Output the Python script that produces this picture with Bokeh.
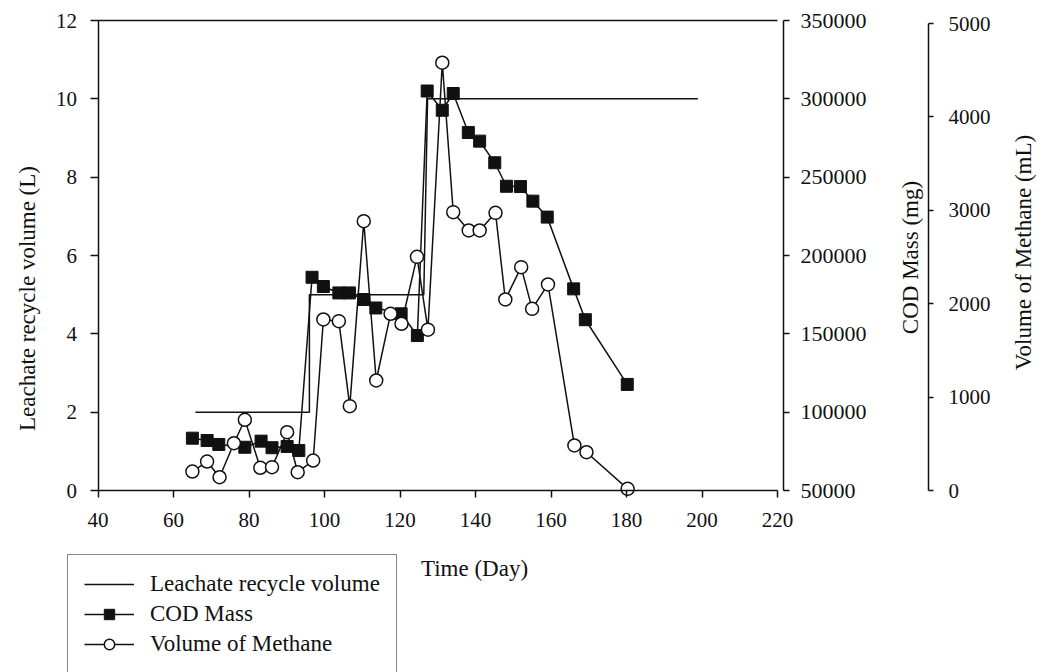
import math
from bokeh.plotting import figure
from bokeh.models import (Range1d, LinearAxis, Legend, LegendItem, FixedTicker,
                          BasicTickFormatter, Label)
from bokeh.embed import file_html
from bokeh.resources import INLINE

# ---- data ----
leachate_days = [65.8, 96.0, 96.0, 126.3, 127.3, 198.9]
leachate_l = [2, 2, 5, 5, 10, 10]

cod_days = [65.0, 68.9, 72.0, 78.9, 83.2, 86.1, 90.1, 93.2, 96.7, 99.7,
            103.8, 106.6, 110.4, 113.6, 120.3, 124.6, 127.2, 131.2, 134.1, 138.1,
            141.1, 145.1, 148.2, 151.9, 155.2, 159.0, 166.0, 169.1, 180.2]
cod_mg = [83400, 81900, 79400, 77600, 81500, 77300, 78100, 75500, 186100, 180200,
          176100, 176100, 171900, 166500, 162800, 148900, 305000, 292700, 303400, 278500,
          273000, 259200, 244200, 244000, 234700, 224500, 178700, 159000, 117700]

ch4_days = [65.0, 68.9, 72.2, 76.0, 78.9, 83.0, 86.1, 90.1, 92.9, 97.0,
            99.7, 103.8, 106.7, 110.4, 113.7, 117.5, 120.4, 124.5, 127.4, 131.2,
            134.1, 138.2, 141.1, 145.3, 147.9, 152.1, 155.0, 159.2, 166.2, 169.4, 180.3]
ch4_ml = [203, 310, 142, 506, 757, 243, 250, 624, 196, 321,
          1831, 1813, 903, 2883, 1178, 1892, 1785, 2502, 1722, 4580,
          2980, 2784, 2784, 2973, 2045, 2391, 1945, 2206, 482, 410, 18]

x_ticks = [40, 60, 80, 100, 120, 140, 160, 180, 200, 220]
left_ticks = [0, 2, 4, 6, 8, 10, 12]
cod_ticks = [50000, 100000, 150000, 200000, 250000, 300000, 350000]
ch4_ticks = [0, 1000, 2000, 3000, 4000, 5000]

FONT = "Liberation Serif"
TICK_FS = "21px"
TITLE_FS = "23px"
INK = "#111111"
W, H = 1042, 672

# ---- geometry: the frame covers the whole canvas, axes sit at fixed places ----
FL, FR, FT, FB = 97.5, 777.0, 20.0, 490.0       # plot box in pixels
x_per_px = (220 - 40) / (FR - FL)
y_per_px = (12 - 0) / (FB - FT)
cod_per_px = (350000 - 50000) / (FB - FT)
ch4_per_px = 5000 / (FB - 23.0)


def xr(px):
    return 40 + (px - FL) * x_per_px


p = figure(width=W, height=H, output_backend="svg", toolbar_location=None,
           x_axis_location=None, y_axis_location=None,
           x_range=Range1d(xr(0), xr(W)),
           y_range=Range1d(-(H - FB) * y_per_px, FB * y_per_px),
           min_border=0)
p.extra_y_ranges = {
    "cod": Range1d(50000 - (H - FB) * cod_per_px, 50000 + FB * cod_per_px),
    "ch4": Range1d(-(H - FB) * ch4_per_px, FB * ch4_per_px),
}
p.outline_line_color = None
p.xgrid.visible = False
p.ygrid.visible = False
p.background_fill_color = "white"
p.border_fill_color = "white"


def style_axis(ax, tick_out, standoff, fs=TICK_FS):
    ax.axis_line_color = INK
    ax.axis_line_width = 1.5
    ax.major_tick_line_color = INK
    ax.major_tick_line_width = 1.5
    ax.major_tick_in = 0
    ax.major_tick_out = tick_out
    ax.minor_tick_line_color = None
    ax.major_label_text_font = FONT
    ax.major_label_text_font_size = fs
    ax.major_label_text_color = INK
    ax.major_label_standoff = standoff


xa = LinearAxis(ticker=FixedTicker(ticks=x_ticks), fixed_location=0, bounds=(40, 220))
style_axis(xa, 7, 15)
p.add_layout(xa, "below")

top = LinearAxis(ticker=FixedTicker(ticks=[]), fixed_location=12, bounds=(40, 220))
top.axis_line_color = INK
top.axis_line_width = 1.5
top.major_tick_line_color = None
top.minor_tick_line_color = None
top.major_label_text_font_size = "0px"
p.add_layout(top, "above")

ya = LinearAxis(ticker=FixedTicker(ticks=left_ticks), fixed_location=40, bounds=(0, 12))
style_axis(ya, 8, 13)
p.add_layout(ya, "left")

cod_axis = LinearAxis(y_range_name="cod", ticker=FixedTicker(ticks=cod_ticks),
                      formatter=BasicTickFormatter(use_scientific=False),
                      fixed_location=xr(783), bounds=(50000, 350000))
style_axis(cod_axis, 6, 11, fs="22px")
p.add_layout(cod_axis, "right")

ch4_axis = LinearAxis(y_range_name="ch4", ticker=FixedTicker(ticks=ch4_ticks),
                      fixed_location=xr(928), bounds=(0, 5000))
style_axis(ch4_axis, 5, 15)
p.add_layout(ch4_axis, "right")

# ---- axis titles ----
def title(text, px, py, angle=0.0):
    lab = Label(x=px, y=H - py, x_units="screen", y_units="screen", text=text,
                angle=angle, text_align="center", text_baseline="middle",
                text_font=FONT, text_font_size=TITLE_FS, text_color=INK)
    p.add_layout(lab)

title("Leachate recycle volume (L)", 27, 298, math.pi / 2)
title("COD Mass (mg)", 910, 257, math.pi / 2)
title("Volume of Methane (mL)", 1023, 252, math.pi / 2)
title("Time (Day)", 474, 568)

# ---- series ----
r_leach = p.line(leachate_days, leachate_l, line_color=INK, line_width=1.5)

r_cod_line = p.line(cod_days, cod_mg, y_range_name="cod", line_color=INK, line_width=1.5)
r_cod_pts = p.scatter(cod_days, cod_mg, y_range_name="cod", marker="square", size=12,
                      fill_color=INK, line_color=INK)

r_ch4_line = p.line(ch4_days, ch4_ml, y_range_name="ch4", line_color=INK, line_width=1.5)
r_ch4_pts = p.scatter(ch4_days, ch4_ml, y_range_name="ch4", marker="circle", size=13,
                      fill_color="white", line_color=INK, line_width=1.5)

legend = Legend(items=[
    LegendItem(label="Leachate recycle volume", renderers=[r_leach]),
    LegendItem(label="COD Mass", renderers=[r_cod_line, r_cod_pts]),
    LegendItem(label="Volume of Methane", renderers=[r_ch4_line, r_ch4_pts]),
], location=(67, -2))
legend.border_line_color = INK
legend.border_line_width = 1.5
legend.background_fill_color = "white"
legend.background_fill_alpha = 1
legend.padding = 16
legend.margin = 0
legend.glyph_width = 50
legend.glyph_height = 26
legend.label_height = 26
legend.spacing = 4
legend.label_standoff = 16
legend.label_text_font = FONT
legend.label_text_font_size = TITLE_FS
legend.label_text_color = INK
p.add_layout(legend)

open("out.html", "w").write(file_html(p, INLINE))
